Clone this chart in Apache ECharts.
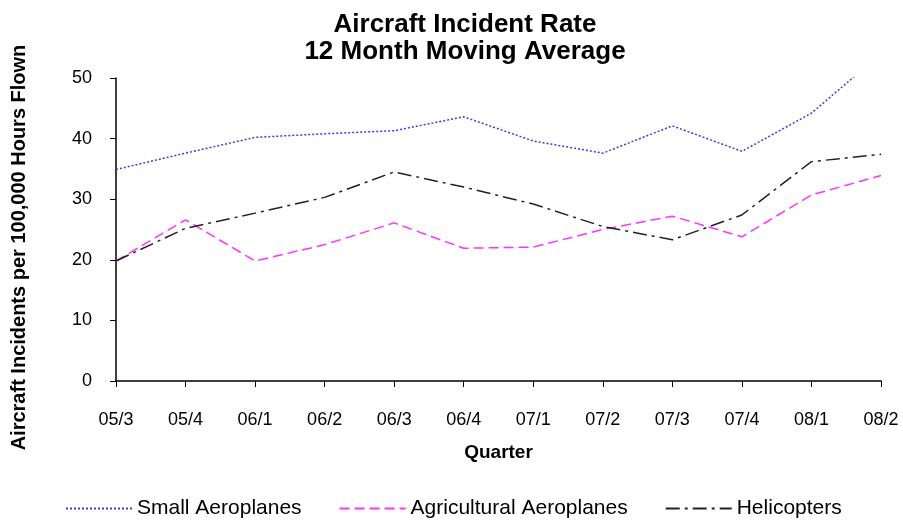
<!DOCTYPE html>
<html>
<head>
<meta charset="utf-8">
<script src="https://cdn.jsdelivr.net/npm/echarts@6/dist/echarts.min.js"></script>
<style>
	html, body { margin: 0; padding: 0; background: #fff; }
	#chart { width: 903px; height: 527px; }
</style>
</head>
<body>
<div id="chart"></div>
<script>
	var quarters = ['05/3', '05/4', '06/1', '06/2', '06/3', '06/4', '07/1', '07/2', '07/3', '07/4', '08/1', '08/2'];
	var smallAeroplanes = [34.9, 37.6, 40.2, 40.8, 41.3, 43.6, 39.6, 37.6, 42.1, 37.9, 44.2, 54];
	var agriculturalAeroplanes = [19.8, 26.6, 19.8, 22.5, 26.1, 21.9, 22.1, 25.0, 27.2, 23.8, 30.7, 33.9];
	var helicopters = [19.8, 25.2, 27.7, 30.3, 34.5, 32.0, 29.2, 25.5, 23.3, 27.4, 36.2, 37.4];

	var font = '"Liberation Sans", Arial, sans-serif';
	var chart = echarts.init(document.getElementById('chart'), null, { renderer: 'canvas' });

	// one line series
	function lineSeries(name, data, color, type) {
		return {
			name: name,
			type: 'line',
			data: data,
			symbol: 'none',
			clip: true,
			lineStyle: { color: color, width: 1.5, type: type },
			itemStyle: { color: color }
		};
	}

	chart.setOption({
		animation: false,
		backgroundColor: '#fff',
		title: {
			text: 'Aircraft Incident Rate\n12 Month Moving Average',
			left: 460,
			textAlign: 'center',
			top: 6,
			textStyle: { fontFamily: font, fontSize: 26, fontWeight: 'bold', color: '#000', lineHeight: 27 }
		},
		legend: {
			bottom: 3,
			left: 60,
			itemWidth: 66,
			itemHeight: 10,
			itemGap: 37,
			itemStyle: { opacity: 0 },
			textStyle: { fontFamily: font, fontSize: 21, color: '#000' },
			data: ['Small Aeroplanes', 'Agricultural Aeroplanes', 'Helicopters']
		},
		grid: { left: 116, right: 22, top: 78, bottom: 146, containLabel: false, outerBoundsMode: 'none' },
		xAxis: {
			type: 'category',
			data: quarters,
			boundaryGap: false,
			name: 'Quarter',
			nameLocation: 'middle',
			nameGap: 62,
			nameTextStyle: { fontFamily: font, fontSize: 19, fontWeight: 'bold', color: '#000' },
			axisLine: { lineStyle: { color: '#000', width: 1.5 } },
			axisTick: { show: true, alignWithLabel: true, length: 6, lineStyle: { color: '#000' } },
			axisLabel: { fontFamily: font, fontSize: 18, color: '#000', margin: 30, interval: 0 },
			splitLine: { show: false }
		},
		yAxis: {
			type: 'value',
			min: 0,
			max: 50,
			interval: 10,
			name: 'Aircraft Incidents per 100,000 Hours Flown',
			nameLocation: 'middle',
			nameGap: 87,
			nameTextStyle: { fontFamily: font, fontSize: 20, fontWeight: 'bold', color: '#000', padding: [0, 36, 0, 0] },
			axisLine: { show: true, lineStyle: { color: '#000', width: 1.5 } },
			axisTick: { show: true, length: 6, lineStyle: { color: '#000' } },
			axisLabel: { fontFamily: font, fontSize: 18, color: '#000', margin: 24 },
			splitLine: { show: false }
		},
		series: [
			lineSeries('Small Aeroplanes', smallAeroplanes, '#3c3ce0', [2, 2]),
			lineSeries('Agricultural Aeroplanes', agriculturalAeroplanes, '#ff33ff', [10, 5]),
			lineSeries('Helicopters', helicopters, '#222', [14, 5, 3, 5])
		]
	});
</script>
</body>
</html>
